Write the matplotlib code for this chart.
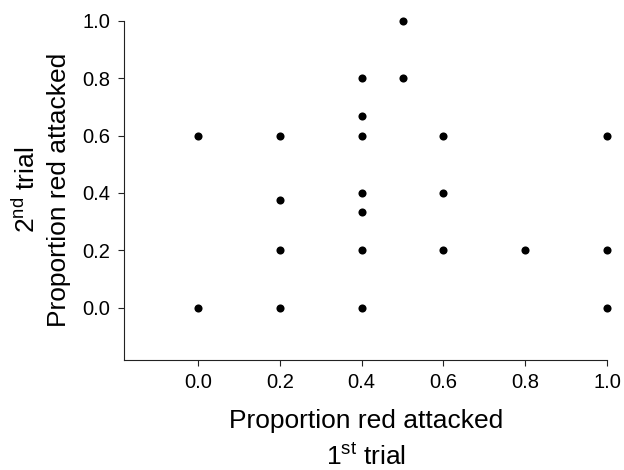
import matplotlib
matplotlib.use("Agg")
import matplotlib.pyplot as plt

plt.rcParams['font.family'] = ['Liberation Sans', 'DejaVu Sans']
plt.rcParams['mathtext.fontset'] = 'custom'
plt.rcParams['mathtext.rm'] = 'Liberation Sans'

# proportion red attacked, 1st trial vs 2nd trial
first_trial = [0.0, 0.0,
               0.2, 0.2, 0.2, 0.2,
               0.4, 0.4, 0.4, 0.4, 0.4, 0.4, 0.4,
               0.5, 0.5,
               0.6, 0.6, 0.6,
               0.8,
               1.0, 1.0, 1.0]
second_trial = [0.6, 0.0,
                0.6, 0.375, 0.2, 0.0,
                0.8, 0.667, 0.6, 0.4, 0.333, 0.2, 0.0,
                1.0, 0.8,
                0.6, 0.4, 0.2,
                0.2,
                0.6, 0.2, 0.0]
ticks = [0.0, 0.2, 0.4, 0.6, 0.8, 1.0]
tick_labels = ['0.0', '0.2', '0.4', '0.6', '0.8', '1.0']

fig = plt.figure(figsize=(6.24, 4.70), dpi=100)
ax = fig.add_axes([0.199, 0.235, 0.774, 0.721])

ax.scatter(first_trial, second_trial, s=34, color='black', linewidths=0, clip_on=False, zorder=3)

ax.set_xlim(-0.18, 1.0)
ax.set_ylim(-0.18, 1.0)
ax.set_xticks(ticks)
ax.set_xticklabels(tick_labels)
ax.set_yticks(ticks)
ax.set_yticklabels(tick_labels)
ax.tick_params(direction='out', length=4, width=0.8, labelsize=14.5, pad=6, color='#222222')

for side in ['top', 'right']:
    ax.spines[side].set_visible(False)
for side in ['left', 'bottom']:
    ax.spines[side].set_linewidth(0.8)
    ax.spines[side].set_color('#222222')

ax.set_xlabel('Proportion red attacked\n$\\mathregular{1^{st}}$ trial', fontsize=19,
              labelpad=12, linespacing=1.5)
ax.set_ylabel('$\\mathregular{2^{nd}}$ trial\nProportion red attacked', fontsize=19,
              labelpad=8, linespacing=1.4)

fig.savefig('out.png', dpi=100)
